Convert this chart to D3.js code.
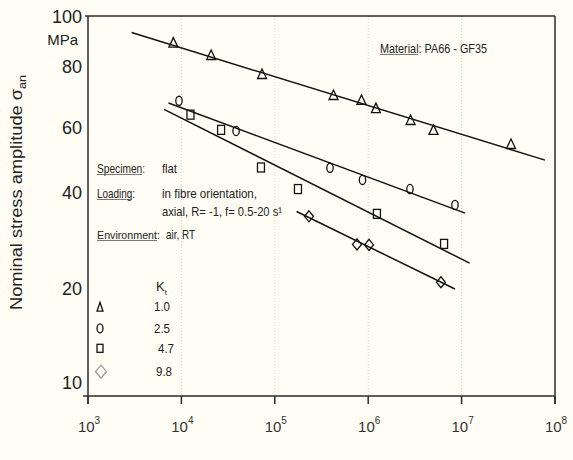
<!DOCTYPE html>
<html>
<head>
<meta charset="utf-8">
<script src="https://cdn.jsdelivr.net/npm/d3@7"></script>
<style>
  html, body { margin: 0; padding: 0; background: #fffdf4; }
  svg { display: block; }
  text { font-family: "Liberation Sans", Arial, sans-serif; fill: #222; }
</style>
</head>
<body>
<svg id="chart" width="573" height="460"></svg>
<script>
// ---------- data ----------
const xTickValues = [1e3, 1e4, 1e5, 1e6, 1e7, 1e8];
const xTickExponents = ["3", "4", "5", "6", "7", "8"];
const yTickValues = [10, 20, 40, 60, 80, 100];
const yTickLabels = ["10", "20", "40", "60", "80", "100"];
const ktLabels = ["1.0", "2.5", "4.7", "9.8"];

// Kt = 1.0 (triangles)
const triN = [8.2e3, 2.08e4, 7.3e4, 4.25e5, 8.47e5, 1.21e6, 2.84e6, 5.0e6, 3.38e7];
const triS = [89.2, 84.4, 77.4, 70.1, 68.5, 65.9, 62.3, 59.3, 54.3];
// Kt = 2.5 (circles)
const cirN = [9.42e3, 3.85e4, 3.9e5, 8.69e5, 2.8e6, 8.49e6];
const cirS = [68.2, 58.9, 46.8, 43.4, 41.0, 36.7];
// Kt = 4.7 (squares)
const sqN = [1.25e4, 2.66e4, 7.11e4, 1.77e5, 1.24e6, 6.49e6];
const sqS = [63.9, 59.3, 46.9, 41.0, 34.4, 27.7];
// Kt = 9.8 (diamonds)
const diaN = [2.32e5, 7.59e5, 1.02e6, 6.01e6];
const diaS = [33.8, 27.6, 27.5, 21.0];

// fitted lines (start/end) per Kt
const fitN = [[2.93e3, 7.82e7], [7.28e3, 1.09e7], [6.52e3, 1.22e7], [1.71e5, 8.49e6]];
const fitS = [[93.3, 49.1], [67.5, 34.6], [65.5, 24.1], [35.0, 20.0]];

// ---------- layout ----------
const svg = d3.select("#chart");
const L = 88, R = 555, T = 16, B = 396;

const x = d3.scaleLog().domain([1e3, 1e8]).range([L, R]);
// the printed y axis is a (slightly distorted) logarithmic scale
const y = d3.scaleLog().domain(yTickValues).range([383, 289, 193, 128, 67, 17]);

// vertical grid lines
svg.append("g").selectAll("line")
  .data(xTickValues.slice(1, -1)).join("line")
  .attr("x1", d => x(d)).attr("x2", d => x(d))
  .attr("y1", T).attr("y2", B)
  .attr("stroke", "#b5e0c4").attr("stroke-width", 1).attr("stroke-dasharray", "1,2");

// frame
const frame = svg.append("g").attr("stroke", "#2a2a2a").attr("stroke-width", 1.5).attr("fill", "none");
frame.append("line").attr("x1", L - 3).attr("x2", R).attr("y1", T).attr("y2", T);
frame.append("line").attr("x1", L - 5).attr("x2", R).attr("y1", B).attr("y2", B);
frame.append("line").attr("x1", L).attr("x2", L).attr("y1", T).attr("y2", B + 8);
frame.append("line").attr("x1", R).attr("x2", R).attr("y1", T).attr("y2", B + 8);

// x ticks
svg.append("g").selectAll("line")
  .data(xTickValues).join("line")
  .attr("x1", d => x(d)).attr("x2", d => x(d))
  .attr("y1", B).attr("y2", B + 8)
  .attr("stroke", "#2a2a2a").attr("stroke-width", 1.5);

// x tick labels
const xl = svg.append("g").selectAll("text")
  .data(xTickValues).join("text")
  .attr("x", d => x(d) + 1).attr("y", 432)
  .attr("text-anchor", "middle")
  .style("font-size", "15px").style("fill", "#333");
xl.append("tspan").text("10");
xl.append("tspan").attr("dy", -8).style("font-size", "10px").text((d, i) => xTickExponents[i]);

// y tick labels
svg.append("g").selectAll("text")
  .data(yTickValues).join("text")
  .attr("x", 82).attr("y", d => y(d))
  .attr("dy", "0.36em")
  .attr("text-anchor", "end")
  .style("font-size", "18px")
  .text((d, i) => yTickLabels[i]);

svg.append("text").attr("x", 78).attr("y", 45).attr("text-anchor", "end")
  .style("font-size", "15px").text("MPa");

// y axis title
const yt = svg.append("text")
  .attr("transform", "translate(22,310) rotate(-90)")
  .attr("textLength", 235).attr("lengthAdjust", "spacingAndGlyphs")
  .style("font-size", "16px");
yt.append("tspan").text("Nominal stress amplitude σ");
yt.append("tspan").attr("dy", 4).style("font-size", "11px").text("an");

// fitted lines
svg.append("g").selectAll("line")
  .data(fitN).join("line")
  .attr("x1", d => x(d[0])).attr("x2", d => x(d[1]))
  .attr("y1", (d, i) => y(fitS[i][0])).attr("y2", (d, i) => y(fitS[i][1]))
  .attr("stroke", "#111").attr("stroke-width", 1.5);

// markers
const triPath = "M0,-5L4.5,4.5L-4.5,4.5Z";
const diaPath = "M0,-5.5L4.5,0L0,5.5L-4.5,0Z";
const mk = svg.append("g").attr("fill", "none").attr("stroke", "#111").attr("stroke-width", 1.3);

mk.selectAll("path.tri").data(triN).join("path").attr("class", "tri")
  .attr("d", triPath)
  .attr("transform", (d, i) => `translate(${x(d)},${y(triS[i])})`);
mk.selectAll("ellipse.cir").data(cirN).join("ellipse").attr("class", "cir")
  .attr("cx", d => x(d)).attr("cy", (d, i) => y(cirS[i]))
  .attr("rx", 3.2).attr("ry", 4.6);
mk.selectAll("rect.sq").data(sqN).join("rect").attr("class", "sq")
  .attr("x", d => x(d) - 3.5).attr("y", (d, i) => y(sqS[i]) - 4.5)
  .attr("width", 7).attr("height", 9);
mk.selectAll("path.dia").data(diaN).join("path").attr("class", "dia")
  .attr("d", diaPath)
  .attr("transform", (d, i) => `translate(${x(d)},${y(diaS[i])})`);

// annotations (single text elements, underline drawn as a line)
function ann(xp, yp, str, len, ulen, size) {
  const t = svg.append("text").attr("x", xp).attr("y", yp)
    .style("font-size", (size || 13) + "px").text(str);
  if (len) t.attr("textLength", len).attr("lengthAdjust", "spacingAndGlyphs");
  if (ulen) {
    svg.append("line").attr("x1", xp).attr("x2", xp + ulen)
      .attr("y1", yp + 2).attr("y2", yp + 2)
      .attr("stroke", "#555").attr("stroke-width", 0.8);
  }
  return t;
}
ann(380, 52.5, "Material: PA66 - GF35", 107, 38);
ann(97, 172.5, "Specimen:", 48, 45);
ann(162, 172.5, "flat", 15);
ann(97, 197.5, "Loading:", 38, 35);
ann(162, 197.5, "in fibre orientation,", 95);
ann(162, 216, "axial, R= -1, f= 0.5-20 s¹", 120);
ann(97, 238.5, "Environment:", 63, 60, 11.3);
ann(166, 238.5, "air, RT", 29);

// legend
const kt = svg.append("text").attr("x", 156).attr("y", 291).style("font-size", "13px");
kt.append("tspan").text("K");
kt.append("tspan").attr("dy", 4).style("font-size", "8px").text("t");

const legY = [306.7, 328.3, 348.3, 371.7];
const legX = 100;
svg.append("g").selectAll("text").data(ktLabels).join("text")
  .attr("x", (d, i) => [154, 154, 158, 156][i]).attr("y", (d, i) => legY[i])
  .attr("dy", "0.36em").style("font-size", "13px")
  .attr("textLength", 16).attr("lengthAdjust", "spacingAndGlyphs")
  .text(d => d);

const lg = svg.append("g").attr("fill", "none").attr("stroke", "#111").attr("stroke-width", 1.3);
lg.append("path").attr("d", "M0,-4.5L3,4.5L-3,4.5Z").attr("transform", `translate(${legX},${legY[0]})`);
lg.append("ellipse").attr("cx", legX).attr("cy", legY[1]).attr("rx", 3).attr("ry", 4.5);
lg.append("rect").attr("x", legX - 3).attr("y", legY[2] - 4).attr("width", 6).attr("height", 8);
lg.append("path").attr("d", "M0,-6.5L5.5,0L0,6.5L-5.5,0Z")
  .attr("transform", `translate(${legX + 1},${legY[3]})`).attr("stroke", "#9a9a9a");
</script>
</body>
</html>
